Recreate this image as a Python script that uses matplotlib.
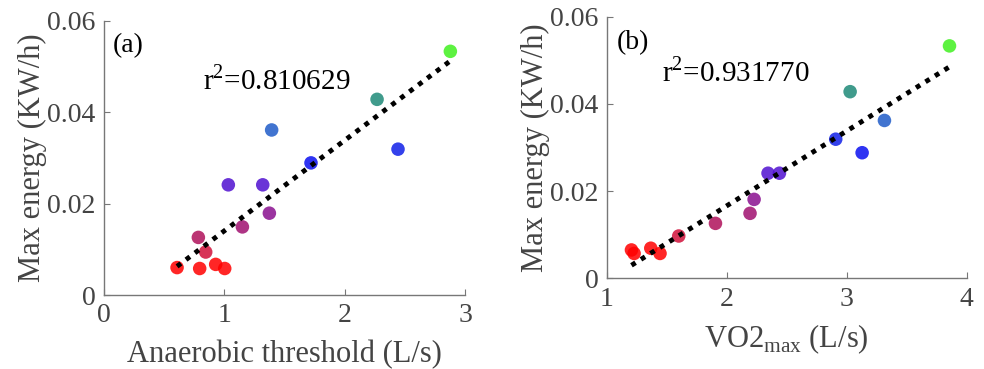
import numpy as np
import matplotlib
matplotlib.use("Agg")
import matplotlib.pyplot as plt

plt.rcParams['font.family'] = ['Liberation Serif', 'DejaVu Serif']
plt.rcParams['mathtext.fontset'] = 'custom'
plt.rcParams['mathtext.rm'] = 'Liberation Serif'

# values
colors = ['#ff0000', '#ff0000', '#ff0000', '#ff0000', '#d0103a', '#b0105a',
          '#a01070', '#8a1090', '#5010d0', '#5010d0', '#1f5cc8', '#0a10f0',
          '#1020e8', '#1e8a78', '#40f020']

# panel (a): anaerobic threshold
at_x = [0.607, 0.795, 0.928, 1.003, 0.845, 0.784, 1.150, 1.374, 1.033, 1.319,
        1.393, 1.720, 2.443, 2.269, 2.878]
at_y = [0.0060, 0.0058, 0.0067, 0.0058, 0.0094, 0.0126, 0.0149, 0.0179, 0.0241,
        0.0241, 0.0361, 0.0289, 0.0319, 0.0428, 0.0533]
# panel (b): VO2max, colours in same order as above
vo_x = [1.206, 1.228, 1.367, 1.444, 1.600, 1.906, 2.194, 2.228, 2.344, 2.439,
        3.314, 3.128, 2.908, 3.028, 3.856]
vo_y = [0.0065, 0.0057, 0.0069, 0.0057, 0.0097, 0.0126, 0.0149, 0.0181, 0.0241,
        0.0241, 0.0362, 0.0288, 0.0319, 0.0428, 0.0533]

r2_a = 0.810629
r2_b = 0.931770

grey = '#444444'


def style_axes(ax, xlim, xticks):
    ax.set_xlim(*xlim)
    ax.set_ylim(0, 0.06)
    ax.set_xticks(xticks)
    ax.set_yticks([0, 0.02, 0.04, 0.06])
    ax.set_yticklabels(['0', '0.02', '0.04', '0.06'])
    for s in ['top', 'right']:
        ax.spines[s].set_visible(False)
    for s in ['left', 'bottom']:
        ax.spines[s].set_color('#777777')
        ax.spines[s].set_linewidth(1.0)
    ax.tick_params(direction='in', length=4, colors='#777777', labelcolor=grey,
                   labelsize=20)
    ax.tick_params(axis='y', pad=6)
    ax.tick_params(axis='x', pad=6)
    ax.set_ylabel('Max energy (KW/h)', fontsize=22, color=grey, labelpad=0)


def panel(ax, x, y, r2, tag, xlim, xticks, tagpos, r2pos):
    x = np.array(x)
    y = np.array(y)
    ax.scatter(x, y, s=95, c=colors, alpha=0.85, edgecolors='none', zorder=2)
    k, b = np.polyfit(x, y, 1)
    xs = np.array([x.min(), x.max()])
    ax.plot(xs, k * xs + b, color='black', lw=3.5, linestyle=(0, (1, 1.3)), zorder=3)
    ax.text(tagpos[0], tagpos[1], tag, fontsize=20, color='black', va='center')
    ax.text(r2pos[0], r2pos[1], r'r$^2$=%.6f' % r2, fontsize=21, color='black',
            va='center')
    style_axes(ax, xlim, xticks)


fig = plt.figure(figsize=(9.84, 3.69), dpi=100)
ax1 = fig.add_axes([0.1057, 0.2005, 0.3669, 0.7434])
ax2 = fig.add_axes([0.6166, 0.2458, 0.3659, 0.709])

panel(ax1, at_x, at_y, r2_a, '(a)', (0, 3), [0, 1, 2, 3], (0.075, 0.0546), (0.825, 0.047))
ax1.set_xlabel('Anaerobic threshold (L/s)', fontsize=22, color=grey, labelpad=8)

panel(ax2, vo_x, vo_y, r2_b, '(b)', (1, 4), [1, 2, 3, 4], (1.083, 0.054), (1.458, 0.0473))
ax2.set_xlabel(r'VO2$_{\mathrm{max}}$ (L/s)', fontsize=22, color=grey, labelpad=8)

fig.savefig('out.png', dpi=100)
